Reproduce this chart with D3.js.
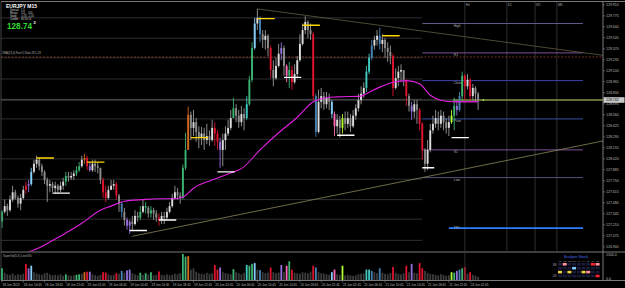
<!DOCTYPE html>
<html><head><meta charset="utf-8">
<script src="https://cdn.jsdelivr.net/npm/d3@7/dist/d3.min.js"></script>
<style>
html,body{margin:0;padding:0;background:#000;overflow:hidden;}
svg{display:block;font-family:"Liberation Sans",Arial,sans-serif;}
</style></head>
<body>
<svg id="chart" width="625" height="288"></svg>
<script>
// ---------------- DATA ----------------
const symbol = "EURJPY  M15";
const bidPrice = 128.742;
const firstOpen = 127.25;
const closes = [
127.37,127.44,127.39,127.52,127.61,127.54,127.47,127.54,127.64,127.69,
127.71,127.86,127.96,128.01,127.93,127.86,127.76,127.69,127.71,127.66,
127.69,127.64,127.69,127.74,127.81,127.79,127.81,127.84,127.88,127.93,
128.01,128.03,127.93,127.88,127.96,127.93,127.91,127.76,127.61,127.54,
127.64,127.69,127.71,127.57,127.47,127.37,127.27,127.20,127.25,127.22,
127.32,127.30,127.37,127.44,127.42,127.35,127.39,127.35,127.30,127.27,
127.32,127.30,127.37,127.44,127.54,127.61,127.57,127.54,127.91,128.13,
128.56,128.40,128.47,128.35,128.28,128.33,128.25,128.30,128.25,128.40,
128.33,128.23,128.13,128.25,128.33,128.40,128.52,128.64,128.55,128.47,
128.57,128.52,128.69,128.99,129.38,129.68,129.75,129.55,129.48,129.53,
129.38,129.11,129.01,129.16,129.31,129.38,129.16,129.04,129.11,128.96,
129.06,129.23,129.43,129.60,129.70,129.60,129.55,128.79,128.35,128.72,
128.79,128.69,128.77,128.72,128.57,128.42,128.50,128.40,128.52,128.45,
128.52,128.42,128.55,128.64,128.74,128.82,128.89,129.09,129.26,129.41,
129.48,129.53,129.43,129.48,129.38,129.33,129.28,128.89,129.01,129.09,
129.11,128.99,128.79,128.67,128.60,128.69,128.62,128.45,128.13,127.96,
128.13,128.37,128.45,128.52,128.45,128.55,128.47,128.40,128.47,128.55,
128.67,128.62,128.79,129.04,128.91,128.99,128.79,128.89,128.82,128.74];
const highs = [
127.39,127.52,127.47,127.57,127.69,127.64,127.57,127.59,127.69,127.74,
127.76,127.91,128.01,128.06,128.03,127.96,127.88,127.79,127.76,127.74,
127.74,127.71,127.74,127.79,127.86,127.86,127.86,127.88,127.93,127.98,
128.06,128.08,128.06,127.98,128.01,128.01,127.98,127.91,127.79,127.69,
127.69,127.76,127.76,127.74,127.59,127.49,127.42,127.30,127.27,127.32,
127.39,127.37,127.44,127.52,127.49,127.44,127.44,127.42,127.39,127.35,
127.37,127.37,127.42,127.49,127.59,127.69,127.66,127.61,127.95,128.34,
128.66,128.60,128.62,128.52,128.42,128.41,128.40,128.45,128.37,128.50,
128.47,128.37,128.28,128.33,128.42,128.50,128.62,128.77,128.69,128.62,
128.67,128.64,128.79,129.04,129.45,129.75,129.86,129.77,129.60,129.60,
129.55,129.41,129.23,129.26,129.43,129.45,129.41,129.18,129.21,129.16,
129.18,129.28,129.55,129.68,129.77,129.72,129.68,129.58,128.82,128.87,
128.89,128.84,128.84,128.82,128.74,128.60,128.57,128.55,128.57,128.60,
128.60,128.57,128.62,128.69,128.82,128.91,128.96,129.16,129.31,129.48,
129.53,129.60,129.63,129.55,129.50,129.45,129.41,129.31,129.13,129.16,
129.18,129.11,128.99,128.82,128.72,128.74,128.74,128.64,128.47,128.15,
128.25,128.45,128.55,128.62,128.60,128.62,128.60,128.52,128.55,128.62,
128.77,128.74,128.84,129.09,129.06,129.06,129.01,128.94,128.91,128.84];
const lows = [
127.17,127.35,127.32,127.37,127.49,127.52,127.42,127.39,127.52,127.59,
127.61,127.69,127.84,127.91,127.88,127.81,127.71,127.49,127.61,127.61,
127.59,127.59,127.61,127.64,127.69,127.74,127.76,127.76,127.81,127.86,
127.91,127.96,127.88,127.86,127.86,127.86,127.84,127.71,127.54,127.49,
127.52,127.64,127.64,127.52,127.37,127.30,127.20,127.15,127.10,127.15,
127.20,127.25,127.27,127.35,127.35,127.30,127.30,127.27,127.25,127.20,
127.22,127.22,127.27,127.35,127.42,127.52,127.52,127.47,127.52,127.88,
128.13,128.25,128.30,128.23,128.15,128.19,128.13,128.20,128.18,128.23,
128.18,128.13,127.91,127.93,128.13,128.30,128.37,128.52,128.47,128.40,
128.42,128.37,128.50,128.67,128.96,129.36,129.60,129.45,129.38,129.36,
129.28,129.01,128.91,128.99,129.14,129.23,129.04,128.96,128.89,128.87,
128.94,129.01,129.21,129.41,129.55,129.50,129.48,128.74,128.29,128.33,
128.64,128.62,128.64,128.62,128.52,128.30,128.33,128.28,128.33,128.37,
128.40,128.35,128.40,128.50,128.60,128.69,128.77,128.84,129.06,129.23,
129.36,129.41,129.36,129.33,129.26,129.21,129.18,128.79,128.87,128.91,
128.96,128.91,128.67,128.60,128.50,128.52,128.45,128.37,128.01,127.86,
127.88,128.10,128.33,128.40,128.37,128.40,128.37,128.33,128.30,128.45,
128.37,128.55,128.60,128.74,128.74,128.87,128.74,128.74,128.72,128.62];
// bar class: n normal, g green, r red, p purple, b blue, l light blue, c teal, o orange, k pink, y yellow-green
const barTypes =
"gnnnnnnnnr"+"plnnnnnnnn"+"nnnngnnngg"+"norpnnnnrr"+"nnnrnbnppn"+
"nngngngnnr"+"nnnnnnnngg"+"onnnnnnnnn"+"rrpnnnngnn"+"nncgglnbnn"+
"nrnnnpnkgr"+"nnnnnnnrbn"+"nnnnlknnyn"+"nnnnnnnccb"+"nnbnnnnrnn"+
"nnrnpnnrrn"+"nnnnnnnnny"+"gpbgrnrnnn";
const volumes = [
45,28,22,20,25,18,22,20,24,62, 45,55,30,25,22,20,26,28,22,18,
20,18,22,16,22,18,16,18,20,22, 24,30,32,32,22,18,16,20,30,28,
22,18,20,26,24,35,28,37,40,26, 22,18,28,20,26,22,30,18,20,33,
20,18,22,18,20,24,22,26,100,90, 92,40,45,32,26,24,22,28,24,26,
58,40,48,30,26,24,22,42,30,26, 22,28,58,55,62,65,40,38,30,26,
28,48,30,26,28,58,30,55,72,40, 28,26,24,30,28,26,32,55,48,30,
26,24,22,20,30,40,22,20,55,18, 20,18,16,18,22,24,26,40,40,35,
30,26,45,28,24,22,26,50,28,24, 22,26,55,30,62,28,26,65,45,35,
28,24,22,20,18,22,20,16,18,30, 28,35,40,45,50,24,30,20,16,12];
// moving average (bar index, price)
const maIdx = [10,14,18,24,30,37,41,46,53,59,64,68,72,79,87,90,97,104,111,117,122,126,135,137,142,147,152,157,161,165,170,179];
const maVal = [126.88,126.93,127.00,127.11,127.23,127.39,127.44,127.50,127.52,127.53,127.53,127.55,127.66,127.76,127.86,127.90,128.13,128.34,128.53,128.72,128.77,128.78,128.79,128.82,128.90,128.96,128.98,128.94,128.80,128.74,128.72,128.72];
// swing markers (bar index, price)
const swingHighIdx = [13,32,71,96,113,143];
const swingHighVal = [128.03,127.98,128.28,129.74,129.66,129.53];
const swingLowIdx = [19,48,59,81,106,126,158,169];
const swingLowVal = [127.60,127.14,127.27,127.86,129.02,128.31,127.91,128.28];
// trendlines (bar index, price)
const upperTrend = [[96,129.86],[226,129.29]];
const lowerTrend = [[49,127.07],[226,128.24]];
// level lines
const levelNames = ["High","R1","Close","Pivot","S1","Low","TP1"];
const levelPrices = [129.68,129.32,128.98,128.51,128.13,127.79,127.17];
const dashLevel = 129.27;
const gridLevels = [129.75,129.50,129.26,129.00,128.75,128.51,128.26,128.02,127.77,127.52,127.28,127.02];
const priceTicks = [129.910,129.775,129.640,129.505,129.370,129.235,129.100,128.965,128.830,128.695,128.560,128.425,128.290,128.155,128.020,127.885,127.750,127.615,127.480,127.345,127.210,127.075,126.940];
const timeLabels = ["18 Jun 2013","18 Jun 14:45","18 Jun 18:45","18 Jun 22:45","19 Jun 02:45","19 Jun 06:45","19 Jun 10:45","19 Jun 14:45","19 Jun 18:45","19 Jun 22:45","20 Jun 02:45","20 Jun 06:45","20 Jun 10:45","20 Jun 14:45","20 Jun 18:45","20 Jun 22:45","21 Jun 02:45","21 Jun 06:45","21 Jun 10:45","21 Jun 14:45","21 Jun 18:45","21 Jun 22:45","24 Jun 02:45"];
const timeLabelIdx = [0,8,16,24,32,40,48,56,64,72,80,88,96,104,112,120,128,136,144,152,160,168,176];
const futureIdx = [174,189.8,200.4,208.6];
const futureNames = ["H4","D1","W1","MN"];
const infoLines = [["Spread","1.5",""],["Range","115","100"],["Swap","-0.35","-1.05"],["Candle","00:10:13",""]];
const volTicks = ["1500.0","0.0"];
const scalperCols = ["M1","M5","M15","M30","H1","H4","D1","W1","MN"];
const scalperRows = ["nknnnnnrk","nnnlnnnnn","ynynnyknn","nnnnnnnnr"];
const scalperLevels = ["80","20"];

// ---------------- DRAW ----------------
const svg = d3.select('#chart');
svg.append('rect').attr('width',625).attr('height',288).attr('fill','#000');
const PL=1, PR=603, PT=2, PB=251.5, VB=280.5;
const x = d3.scaleLinear().domain([0,1]).range([2,4.66]);
const y = d3.scaleLinear().domain([bidPrice,129.910]).range([100,4.8]);
const vy = d3.scaleLinear().domain([0,100]).range([280,254]);
const col = {n:'#b0b0b0',g:'#3cb371',r:'#e0142f',p:'#9370db',b:'#4682b4',l:'#87cefa',c:'#40c8c0',o:'#d2691e',k:'#ff69b4',y:'#adff2f'};

svg.append('defs').append('clipPath').attr('id','mc').append('rect')
  .attr('x',PL).attr('y',PT).attr('width',PR-PL).attr('height',PB-PT);
const main = svg.append('g').attr('clip-path','url(#mc)');

// grid
main.selectAll('line.grid').data(gridLevels).join('line')
  .attr('x1',PL).attr('x2',x(158)).attr('y1',d=>y(d)).attr('y2',d=>y(d))
  .attr('stroke','#3a3a40').attr('stroke-width',0.8);
// future vertical lines
main.selectAll('line.fut').data(futureIdx).join('line')
  .attr('x1',d=>x(d)).attr('x2',d=>x(d)).attr('y1',PT).attr('y2',PB)
  .attr('stroke','#3a3a3a').attr('stroke-width',0.8);
// dashed level
main.append('line').attr('x1',PL).attr('x2',PR).attr('y1',y(dashLevel)).attr('y2',y(dashLevel))
  .attr('stroke','#8b3a2a').attr('stroke-width',0.8).attr('stroke-dasharray','2,1.5');
// bid line
main.append('line').attr('x1',PL).attr('x2',PR).attr('y1',y(bidPrice)).attr('y2',y(bidPrice))
  .attr('stroke','#6a6a6a').attr('stroke-width',0.8);
main.append('line').attr('x1',x(169.5)).attr('x2',PR).attr('y1',y(bidPrice)).attr('y2',y(bidPrice))
  .attr('stroke','#a8c840').attr('stroke-width',0.9);
// level lines
const lvlColor = ['#6a6aa0','#8a5aa8','#4a4ac0','#3a5ab8','#8a5aa8','#5a5a90','#2a80ff'];
const lvlStart = [158,158,158,158,158,158,168];
levelPrices.forEach((p,i)=>{
  main.append('line').attr('x1',x(lvlStart[i])).attr('x2',x(218.4)).attr('y1',y(p)).attr('y2',y(p))
    .attr('stroke',lvlColor[i]).attr('stroke-width',i===6?1.8:0.9);
  main.append('text').attr('x',x(169.5)+1).attr('y',y(p)+(i===6?1.2:3.5)).text(levelNames[i])
    .attr('font-size',3.2).attr('fill','#bbbbbb');
});
// trendlines
const tl = d3.line().x(d=>x(d[0])).y(d=>y(d[1]));
main.append('path').attr('d',tl(upperTrend)).attr('stroke','#5e5e40').attr('stroke-width',0.8).attr('fill','none');
main.append('path').attr('d',tl(lowerTrend)).attr('stroke','#8c8658').attr('stroke-width',0.8).attr('fill','none');

// candles
const bars = closes.map((c,i)=>({i,o:i?closes[i-1]:firstOpen,h:highs[i],l:lows[i],c,t:barTypes[i],v:volumes[i]}));
const cg = main.append('g');
cg.selectAll('line.wick').data(bars).join('line')
  .attr('x1',d=>x(d.i)).attr('x2',d=>x(d.i)).attr('y1',d=>y(d.h)).attr('y2',d=>y(d.l))
  .attr('stroke',d=>d.t==='n'?'#9a9a9a':col[d.t]).attr('stroke-width',0.9);
cg.selectAll('rect.body').data(bars).join('rect')
  .attr('x',d=>x(d.i)-0.95).attr('width',1.9)
  .attr('y',d=>y(Math.max(d.o,d.c)))
  .attr('height',d=>Math.max(0.7,Math.abs(y(d.o)-y(d.c))))
  .attr('fill',d=>d.t!=='n'?col[d.t]:(d.c>=d.o?'#dcdcdc':'#8c8c8c'));

// moving average
const ma = d3.line().x((d,i)=>x(maIdx[i])).y(d=>y(d)).curve(d3.curveMonotoneX);
main.append('path').attr('d',ma(maVal)).attr('fill','none').attr('stroke','#e020e0').attr('stroke-width',1.1);
main.append('line').attr('x1',x(169.5)).attr('x2',x(179)).attr('y1',y(128.72)).attr('y2',y(128.72))
  .attr('stroke','#e020e0').attr('stroke-width',1.1);

// swing markers
main.selectAll('line.sh').data(swingHighIdx).join('line')
  .attr('x1',d=>x(d)).attr('x2',d=>x(d+6.5)).attr('y1',(d,i)=>y(swingHighVal[i])).attr('y2',(d,i)=>y(swingHighVal[i]))
  .attr('stroke','#ffd800').attr('stroke-width',1.4);
main.selectAll('line.sl').data(swingLowIdx).join('line')
  .attr('x1',d=>x(d)).attr('x2',(d,i)=>x(d+(i===6?4.5:6.5))).attr('y1',(d,i)=>y(swingLowVal[i])).attr('y2',(d,i)=>y(swingLowVal[i]))
  .attr('stroke','#ffffff').attr('stroke-width',1.4);
main.append('circle').attr('cx',x(181)).attr('cy',y(bidPrice)).attr('r',0.9).attr('fill','#90e060');

// future labels
svg.selectAll('text.fut').data(futureIdx).join('text')
  .attr('x',d=>x(d)+1).attr('y',5.5).text((d,i)=>futureNames[i]).attr('font-size',3).attr('fill','#aaaaaa');

// info panel
svg.append('text').attr('x',6).attr('y',8).text(symbol).attr('font-size',5).attr('font-weight','bold').attr('fill','#ffffff');
infoLines.forEach((r,i)=>{
  const yy = 11+i*2.9;
  svg.append('text').attr('x',10).attr('y',yy).text(r[0]).attr('font-size',2.6).attr('fill','#cccccc');
  svg.append('text').attr('x',21).attr('y',yy).text(r[1]).attr('font-size',2.6).attr('fill','#cccccc');
  svg.append('text').attr('x',28).attr('y',yy).text(r[2]).attr('font-size',2.6).attr('fill','#cccccc');
});
svg.append('text').attr('x',7).attr('y',29).text(bidPrice.toFixed(2)).attr('font-size',8.2).attr('font-weight','bold').attr('fill','#32dc32');
svg.append('text').attr('x',33.5).attr('y',24).text(bidPrice.toFixed(3).slice(-1)).attr('font-size',4).attr('font-weight','bold').attr('fill','#ffffff');
svg.append('text').attr('x',2).attr('y',54).text('ZMA(23,0) Fast:5 Slow:28 1.28').attr('font-size',2.8).attr('fill','#b0b0b0');

// frames
svg.append('line').attr('x1',PL).attr('x2',625).attr('y1',1.5).attr('y2',1.5).attr('stroke','#777').attr('stroke-width',1);
svg.append('line').attr('x1',PL).attr('x2',PL).attr('y1',1.5).attr('y2',VB).attr('stroke','#555').attr('stroke-width',0.8);
svg.append('line').attr('x1',PR).attr('x2',PR).attr('y1',1.5).attr('y2',VB).attr('stroke','#888').attr('stroke-width',0.9);
svg.append('line').attr('x1',PL).attr('x2',625).attr('y1',PB+0.5).attr('y2',PB+0.5).attr('stroke','#888').attr('stroke-width',0.9);
svg.append('line').attr('x1',PL).attr('x2',625).attr('y1',VB).attr('y2',VB).attr('stroke','#888').attr('stroke-width',0.9);

// price axis
svg.selectAll('line.ptick').data(priceTicks).join('line')
  .attr('x1',PR).attr('x2',PR+2).attr('y1',d=>y(d)).attr('y2',d=>y(d)).attr('stroke','#888').attr('stroke-width',0.6);
svg.selectAll('text.ptl').data(priceTicks).join('text')
  .attr('x',606).attr('y',d=>y(d)+1.2).text(d=>d.toFixed(3)).attr('font-size',3.5).attr('fill','#bbbbbb');
svg.append('rect').attr('x',PR+0.5).attr('y',y(bidPrice)-2.8).attr('width',21).attr('height',5.6).attr('fill','#c8c8c8');
svg.append('text').attr('x',606).attr('y',y(bidPrice)+1.2).text(bidPrice.toFixed(3)).attr('font-size',3.5).attr('fill','#000');

// volume subwindow
const vg = svg.append('g');
vg.selectAll('rect.vol').data(bars).join('rect')
  .attr('x',d=>x(d.i)-0.9).attr('width',1.8).attr('y',d=>vy(d.v)).attr('height',d=>vy(0)-vy(d.v))
  .attr('fill',d=>d.t==='n'?'#3c3c3c':col[d.t]);
vg.append('line').attr('x1',x(futureIdx[0])).attr('x2',x(futureIdx[0])).attr('y1',PB+1).attr('y2',VB).attr('stroke','#3a3a3a').attr('stroke-width',0.8);
svg.append('text').attr('x',3).attr('y',257).text('SuperVol(5,3)    Level 80').attr('font-size',2.8).attr('fill','#b0b0b0');
svg.append('text').attr('x',606).attr('y',255.5).text(volTicks[0]).attr('font-size',3.5).attr('fill','#bbbbbb');
svg.append('text').attr('x',606).attr('y',279.5).text(volTicks[1]).attr('font-size',3.5).attr('fill','#bbbbbb');

// scalper stock panel
const sp = svg.append('g');
const spCol = {n:'#1a1a3a',k:'#ff8fa0',r:'#ff2030',l:'#80c8ff',y:'#e8d048'};
sp.append('text').attr('x',576).attr('y',258).attr('text-anchor','middle').text('Scalper Stock')
  .attr('font-size',4).attr('fill','#4a6cf0');
scalperCols.forEach((c,j)=>{
  sp.append('text').attr('x',560+j*4.7).attr('y',261.8).attr('text-anchor','middle').text(c).attr('font-size',1.8).attr('fill','#aaaaaa');
});
scalperRows.forEach((row,r)=>{
  row.split('').forEach((ch,j)=>{
    sp.append('rect').attr('x',558+j*4.7).attr('y',263+r*3.9).attr('width',4).attr('height',2.6).attr('fill',spCol[ch]);
  });
});
sp.append('text').attr('x',553).attr('y',265.5).text(scalperLevels[0]).attr('font-size',3).attr('fill','#bbbbbb');
sp.append('text').attr('x',553).attr('y',277).text(scalperLevels[1]).attr('font-size',3).attr('fill','#bbbbbb');

// time axis
svg.selectAll('line.tt').data(timeLabelIdx).join('line')
  .attr('x1',d=>x(d)).attr('x2',d=>x(d)).attr('y1',VB).attr('y2',VB+2).attr('stroke','#888').attr('stroke-width',0.6);
svg.selectAll('text.tl').data(timeLabelIdx).join('text')
  .attr('x',d=>x(d)+0.5).attr('y',285.5).text((d,i)=>timeLabels[i]).attr('font-size',3.1).attr('fill','#bbbbbb');
</script>
</body></html>
